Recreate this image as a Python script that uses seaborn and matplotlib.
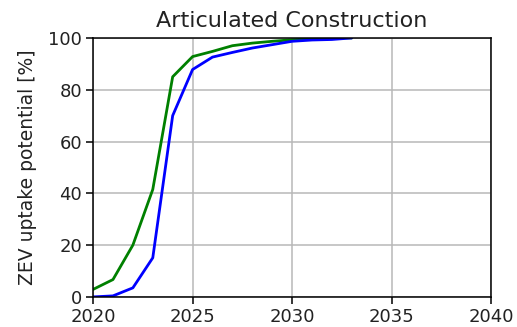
import matplotlib
matplotlib.use("Agg")
import matplotlib.pyplot as plt
import seaborn as sns
import pandas as pd

years = [2020, 2021, 2022, 2023, 2024, 2025, 2026, 2027, 2028, 2029, 2030, 2031, 2032, 2033]
uptake_green = [2.9, 6.7, 20.0, 41.5, 85.0, 92.8, 94.8, 97.0, 98.0, 98.7, 99.3, 99.7, 100.0, 100.0]
uptake_blue = [0.0, 0.4, 3.5, 15.1, 70.0, 87.8, 92.6, 94.4, 96.1, 97.4, 98.7, 99.2, 99.4, 100.0]

sns.set_theme(style="ticks")
plt.rcParams["font.family"] = ["DejaVu Sans"]

fig = plt.figure(figsize=(5.17, 3.27), dpi=100)
ax = fig.add_axes([0.180, 0.092, 0.770, 0.792])

df = pd.DataFrame({"year": years, "green": uptake_green, "blue": uptake_blue})
sns.lineplot(data=df, x="year", y="green", ax=ax, color="#008000", linewidth=2.0)
sns.lineplot(data=df, x="year", y="blue", ax=ax, color="#0000ff", linewidth=2.0)

ax.set_xlim(2020, 2040)
ax.set_ylim(0, 100)
ax.set_xticks([2020, 2025, 2030, 2035, 2040])
ax.set_yticks([0, 20, 40, 60, 80, 100])
ax.grid(True, color="#b8b8b8", linewidth=1.1)
for s in ax.spines.values():
    s.set_color("black")
    s.set_linewidth(1.1)
ax.tick_params(axis="both", labelsize=13, color="black", length=5, width=1.1,
               pad=3, labelcolor="#222222")
ax.set_xlabel("")
ax.set_ylabel("ZEV uptake potential [%]", fontsize=13.5, color="#222222", labelpad=8)
ax.set_title("Articulated Construction", fontsize=16, color="#222222", pad=8)

fig.savefig("out.png", dpi=100)
